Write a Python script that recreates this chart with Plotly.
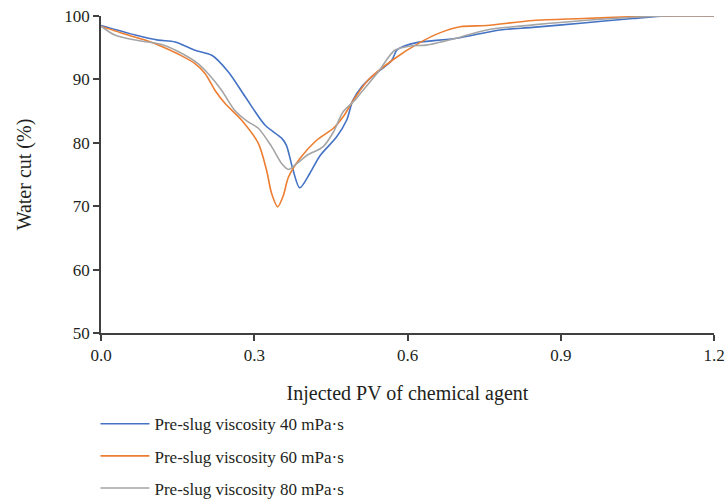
import plotly.graph_objects as go

x_40 = [0.0, 0.067, 0.112, 0.145, 0.184, 0.217, 0.249, 0.282, 0.321, 0.354, 0.363, 0.376, 0.389,
        0.409, 0.429, 0.461, 0.481, 0.493, 0.510, 0.530, 0.569, 0.579, 0.595, 0.618, 0.696,
        0.781, 0.845, 0.944, 1.041, 1.107, 1.2]
y_40 = [98.5, 97.0, 96.2, 95.9, 94.6, 93.8, 91.2, 87.3, 82.8, 80.7, 79.6, 75.7, 72.9,
        75.2, 78.0, 80.9, 83.6, 86.7, 88.8, 90.4, 93.0, 94.6, 95.3, 95.8, 96.5,
        97.8, 98.2, 98.9, 99.6, 100.0, 100.0]

x_60 = [0.0, 0.053, 0.086, 0.119, 0.151, 0.184, 0.204, 0.223, 0.243, 0.275, 0.308, 0.324, 0.334,
        0.346, 0.357, 0.367, 0.389, 0.422, 0.455, 0.474, 0.494, 0.523, 0.575, 0.624, 0.662,
        0.703, 0.755, 0.846, 0.944, 1.042, 1.107, 1.2]
y_60 = [98.4, 97.0, 96.2, 95.2, 94.0, 92.5, 90.9, 88.3, 86.2, 83.6, 79.9, 75.7, 72.0,
        69.9, 71.7, 74.6, 77.5, 80.4, 82.3, 84.1, 86.7, 89.9, 93.3, 95.8, 97.3,
        98.3, 98.5, 99.3, 99.6, 99.9, 100.0, 100.0]

x_80 = [0.0, 0.027, 0.067, 0.119, 0.151, 0.190, 0.210, 0.236, 0.262, 0.288, 0.308, 0.334, 0.354,
        0.367, 0.383, 0.403, 0.435, 0.455, 0.474, 0.497, 0.510, 0.543, 0.575, 0.608, 0.637,
        0.696, 0.755, 0.846, 0.944, 1.042, 1.107, 1.2]
y_80 = [98.4, 97.0, 96.2, 95.5, 94.4, 92.5, 90.9, 88.3, 85.1, 83.3, 82.3, 79.4, 76.7,
        75.8, 76.7, 78.0, 79.4, 81.7, 84.9, 86.7, 88.0, 91.2, 94.6, 95.3, 95.4,
        96.5, 97.8, 98.6, 99.3, 99.8, 100.0, 100.0]

names = ["Pre-slug viscosity 40 mPa·s", "Pre-slug viscosity 60 mPa·s", "Pre-slug viscosity 80 mPa·s"]
colors = ["#4472C4", "#ED7D31", "#A5A5A5"]

x_ticks = [0.0, 0.3, 0.6, 0.9, 1.2]
x_tick_labels = ["0.0", "0.3", "0.6", "0.9", "1.2"]
y_ticks = [50, 60, 70, 80, 90, 100]

FONT = "Liberation Serif"

fig = go.Figure()
for i, (xs, ys) in enumerate([(x_40, y_40), (x_60, y_60), (x_80, y_80)]):
    fig.add_trace(go.Scatter(
        x=xs, y=ys, mode="lines", name=names[i], legendgroup=f"g{i}",
        line=dict(color=colors[i], width=1.6, shape="spline", smoothing=0.8),
    ))

fig.update_layout(
    width=725, height=502,
    margin=dict(l=101, r=11, t=16, b=169, autoexpand=False),
    plot_bgcolor="white", paper_bgcolor="white",
    font=dict(family=FONT, size=17, color="#231F20"),
    showlegend=True,
    legend=dict(
        x=-0.009, y=-0.231, xanchor="left", yanchor="top",
        orientation="v", tracegroupgap=7, itemwidth=49,
        font=dict(family=FONT, size=17, color="#231F20"),
        bgcolor="rgba(0,0,0,0)",
    ),
    xaxis=dict(
        range=[0, 1.2], tickvals=x_ticks, ticktext=x_tick_labels,
        showgrid=False, zeroline=False, showline=True, linecolor="#404040", linewidth=1.5,
        ticks="outside", ticklen=6, tickcolor="#404040", tickwidth=1.5,
        ticklabeloverflow="allow",
        title=dict(text="Injected PV of chemical agent", standoff=22),
        tickfont=dict(size=17),
    ),
    yaxis=dict(
        range=[50, 100], tickvals=y_ticks,
        showgrid=False, zeroline=False, showline=True, linecolor="#404040", linewidth=1.5,
        ticks="outside", ticklen=6, tickcolor="#404040", tickwidth=1.5,
        ticklabeloverflow="allow",
        title=dict(text="Water cut (%)", standoff=27),
        tickfont=dict(size=17),
    ),
)

fig.write_html(
    "out.html",
    config={"displayModeBar": False},
    post_script="document.body.style.margin='0';document.body.style.overflow='hidden';",
)
